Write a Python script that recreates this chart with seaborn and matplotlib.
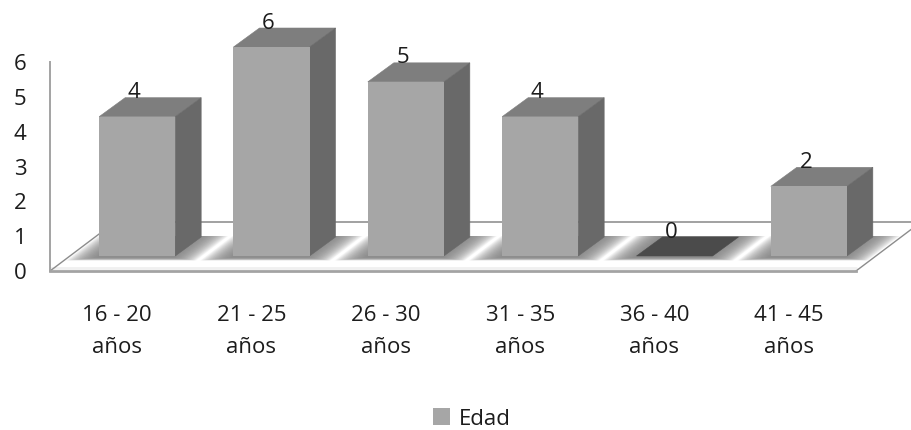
import matplotlib
matplotlib.use("Agg")
import matplotlib.pyplot as plt
from matplotlib.patches import Polygon, Patch
import pandas as pd
import seaborn as sns

# Respondents per age bracket
age_groups = ["16 - 20\naños", "21 - 25\naños", "26 - 30\naños",
              "31 - 35\naños", "36 - 40\naños", "41 - 45\naños"]
counts = [4, 6, 5, 4, 0, 2]
series_name = "Edad"

FRONT = "#a6a6a6"
TOP = "#7e7e7e"
SIDE = "#696969"
EMPTY_TOP = "#4b4b4b"
AXIS = "#a3a3a3"
INK = "#1c1c1c"

sns.set_theme(style="white")
plt.rcParams["font.family"] = ["Open Sans", "DejaVu Sans"]

W, H, DPI = 912, 430, 100
fig = plt.figure(figsize=(W / DPI, H / DPI), dpi=DPI, facecolor="white")
ax = fig.add_axes([50 / W, 1 - 271 / H, 806 / W, 209 / H])

# Pixel-to-data scales used for the oblique depth of the bars and floor
px_x = 6 / 806
px_y = 6 / 209
bar_dx, bar_dy = 26 * px_x, 19 * px_y
floor_dx, floor_dy = 65 * px_x, 49 * px_y
lift = 15 * px_y
shift = 20 * px_x

df = pd.DataFrame({"grupo": age_groups, "n": counts})
sns.barplot(data=df, x="grupo", y="n", color=FRONT, saturation=1, width=0.566,
            bottom=lift, linewidth=0, ax=ax, zorder=3.2)
ax.set_xlim(-0.5, 5.5)
ax.set_ylim(0, 6)
ax.set_xlabel("")
ax.set_ylabel("")

# Floor: back edge and the two receding side edges
floor_kw = dict(color="#8c8c8c", lw=1.0, zorder=1.5, clip_on=False)
ax.plot([-0.5, floor_dx - 0.5], [0, floor_dy], **floor_kw)
ax.plot([5.5, 5.5 + floor_dx], [0, floor_dy], **floor_kw)
ax.plot([floor_dx - 0.5, 5.5 + floor_dx], [floor_dy, floor_dy],
        color="#9a9a9a", lw=1.3, zorder=1.5, clip_on=False)
ax.plot([-0.5, 5.5], [3.5 * px_y] * 2, color="#f0f0f0", lw=2, zorder=1.2, clip_on=False)


def soft_shadow(left, right, base):
    """Blurred floor shadow built from stacked translucent parallelograms."""
    layers = 26
    alpha = 1 - (1 - 0.85) ** (1 / layers)
    for k in range(layers):
        grow = 1 - k / (layers - 1)
        wide = 27 * px_x * grow
        low = base - (1.5 + 3 * grow) * px_y
        high = base + bar_dy + 1 * px_y
        run = (base - low) / bar_dy * bar_dx
        pts = [(left - wide - run, low), (right + wide - run, low),
               (right + wide + bar_dx, high), (left - wide + bar_dx, high)]
        ax.add_patch(Polygon(pts, closed=True, fc="#808080", ec="none", alpha=alpha,
                             zorder=1.8, clip_on=False))


# Depth faces are derived from each drawn bar
for patch, value in zip(ax.patches[:len(counts)], counts):
    patch.set_x(patch.get_x() + shift)
    patch.set_clip_on(False)
    x0 = patch.get_x()
    x1 = x0 + patch.get_width()
    y0 = patch.get_y()
    y1 = y0 + value
    soft_shadow(x0, x1, y0)
    ax.add_patch(Polygon([(x0, y1), (x1, y1), (x1 + bar_dx, y1 + bar_dy), (x0 + bar_dx, y1 + bar_dy)],
                         closed=True, fc=TOP if value else EMPTY_TOP, ec=TOP if value else EMPTY_TOP,
                         lw=0.4, zorder=3, clip_on=False))
    if value:
        ax.add_patch(Polygon([(x1, y0), (x1 + bar_dx, y0 + bar_dy), (x1 + bar_dx, y1 + bar_dy), (x1, y1)],
                             closed=True, fc=SIDE, ec=SIDE, lw=0.4, zorder=3, clip_on=False))
    ax.annotate(str(value), xy=((x0 + x1) / 2, y1), xytext=(-2.2, 17.2), textcoords="offset points",
                ha="center", va="center", fontsize=16, color=INK, zorder=6, annotation_clip=False)

# Axes styling
sns.despine(ax=ax, top=True, right=True)
for name in ("left", "bottom"):
    ax.spines[name].set_color(AXIS)
ax.spines["left"].set_linewidth(1.4)
ax.spines["bottom"].set_linewidth(2.0)
ax.set_yticks(range(7))
ax.tick_params(axis="y", length=0, pad=17, labelsize=16, labelcolor=INK)
ax.tick_params(axis="x", length=0, pad=24.5, labelsize=16, labelcolor=INK)
for lab in ax.get_xticklabels():
    lab.set_linespacing(1.7)
for lab in ax.get_yticklabels():
    lab.set_va("center_baseline")

legend_handle = Patch(facecolor=FRONT, edgecolor="none", label=series_name)
fig.legend(handles=[legend_handle], loc="center", bbox_to_anchor=(472 / W, 1 - 419 / H),
           frameon=False, fontsize=16, handlelength=0.77, handleheight=0.77,
           handletextpad=0.4, labelcolor=INK, borderpad=0)

fig.savefig("out.png", dpi=DPI, facecolor="white")
